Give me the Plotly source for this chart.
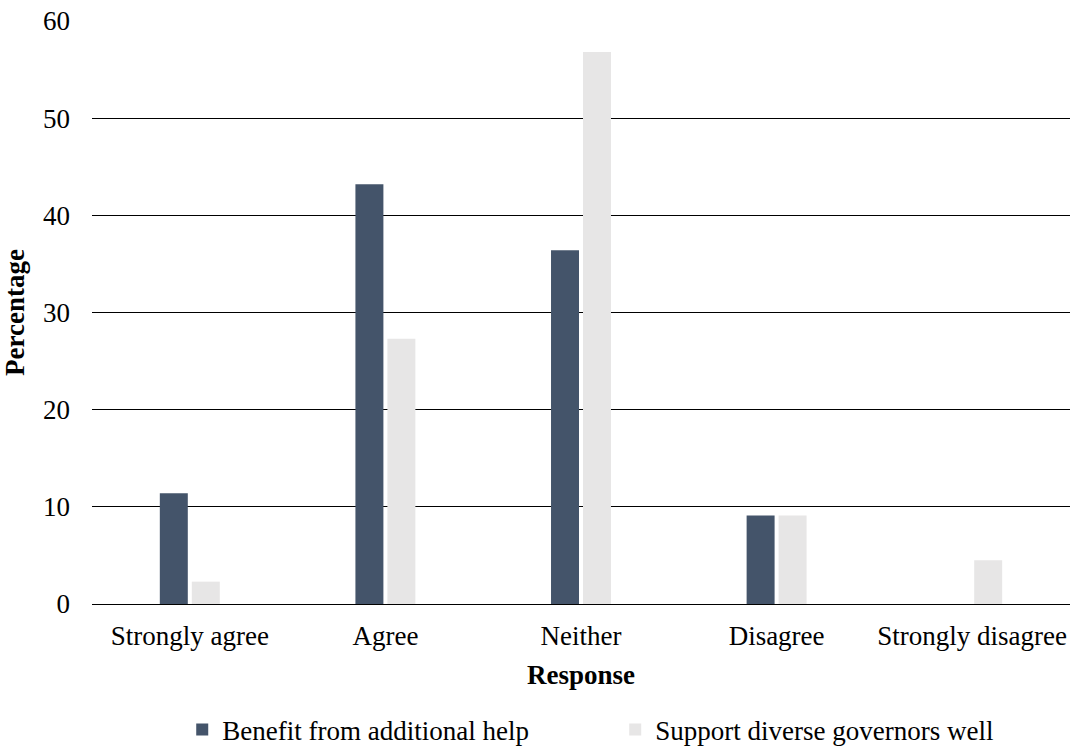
import plotly.graph_objects as go

categories = ["Strongly agree", "Agree", "Neither", "Disagree", "Strongly disagree"]
benefit = [11.4, 43.2, 36.4, 9.1, 0]
support = [2.3, 27.3, 56.8, 9.1, 4.5]
series_names = ["Benefit from additional help", "Support diverse governors well"]
y_ticks = [0, 10, 20, 30, 40, 50, 60]

FONT = "Liberation Serif"
FS = 27

fig = go.Figure()
fig.add_trace(go.Bar(x=categories, y=benefit, name=series_names[0], marker_color="#44546a",
                     marker_line_width=0))
fig.add_trace(go.Bar(x=categories, y=support, name=series_names[1], marker_color="#e7e6e6",
                     marker_line_width=0))

fig.update_layout(
    width=1075, height=747,
    margin=dict(l=92, r=5, t=21, b=143, autoexpand=False),
    paper_bgcolor="white", plot_bgcolor="white",
    font=dict(family=FONT, size=FS, color="black"),
    barmode="group", bargap=0.673, bargroupgap=0.125,
    showlegend=True,
    legend=dict(orientation="h", x=0.535, xanchor="center", y=-0.174, yanchor="top",
                font=dict(size=FS, family=FONT), entrywidth=388, traceorder="normal",
                itemwidth=30),
)
fig.update_xaxes(
    showline=True, linecolor="black", linewidth=1,
    ticks="", showgrid=False, ticklabelstandoff=8,
    title=dict(text="<b>Response</b>", font=dict(size=FS, family=FONT), standoff=14),
    tickfont=dict(size=FS, family=FONT),
)
fig.update_yaxes(
    range=[0, 60], tickvals=y_ticks,
    showgrid=True, gridcolor="black", gridwidth=1,
    zeroline=False, showline=False,
    ticks="", ticklabelstandoff=21,
    title=dict(text="<b>Percentage</b>", font=dict(size=FS, family=FONT), standoff=10),
    tickfont=dict(size=FS, family=FONT),
)

fig.write_html("out.html")
